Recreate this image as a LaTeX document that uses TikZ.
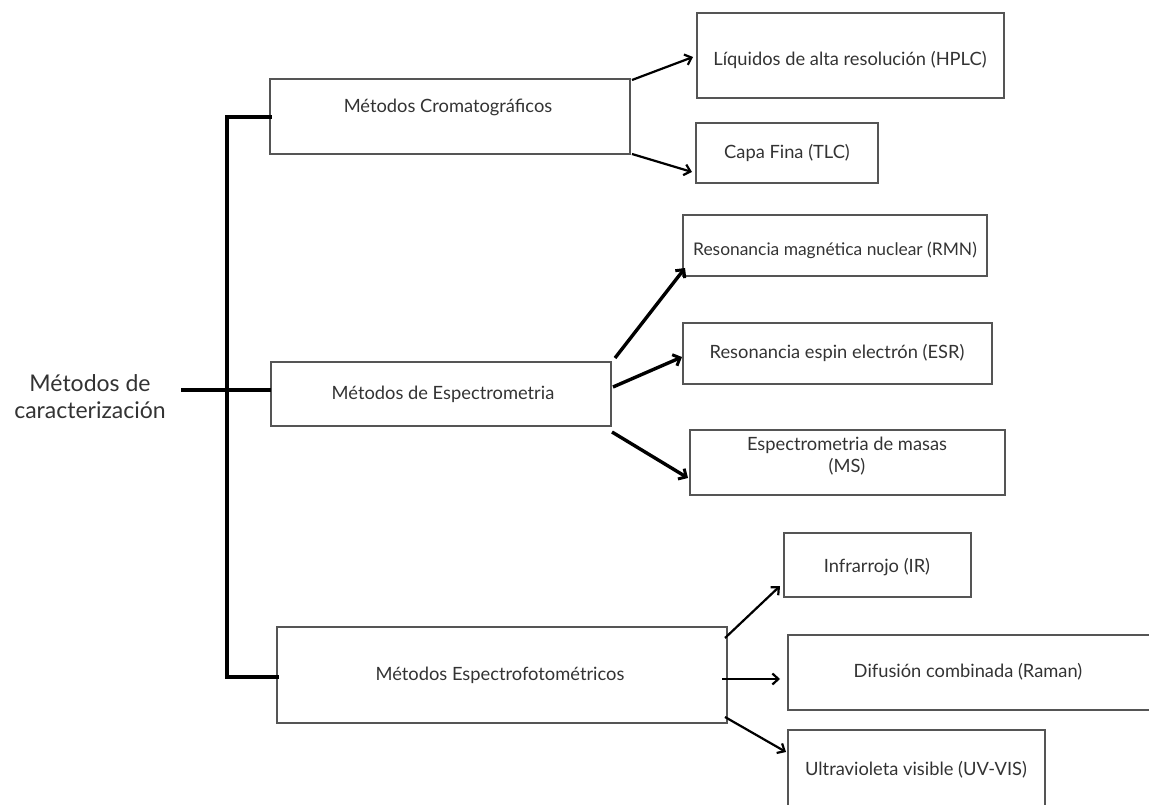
\documentclass[tikz,border=0pt]{standalone}
\usepackage{fontspec}
\setmainfont{Lato}
\usetikzlibrary{arrows.meta,calc}
\definecolor{txt}{HTML}{333333}
\definecolor{edge}{HTML}{555555}
\begin{document}
\begin{tikzpicture}[x=1pt,y=-1pt,
  box/.style={draw=edge,line width=1.4pt,inner sep=0pt,outer sep=0pt},
  lbl/.style={text=txt,font=\fontsize{18.3}{22}\selectfont,align=center,inner sep=0pt},
  trunk/.style={line width=3.6pt,black},
  arr/.style={line width=2.2pt,black,-{Straight Barb[length=6pt,width=11pt,line width=2.2pt]}},
  arrt/.style={line width=3.4pt,black,-{Straight Barb[length=6pt,width=12pt,line width=3pt]}}]
\useasboundingbox (0,0) rectangle (1149,805);
% main boxes
\node[box,minimum width=360pt,minimum height=75pt] (b1) at (450,116.5) {};
\node[lbl] (t1) at (448,107) {Métodos Cromatográficos};
\node[box,minimum width=340pt,minimum height=64pt] (b2) at (441,394) {};
\node[lbl] (t2) at (443,394) {Métodos de Espectrometria};
\node[box,minimum width=450pt,minimum height=96pt] (b3) at (502,675) {};
\node[lbl] (t3) at (500,675) {Métodos Espectrofotométricos};
% leaves
\node[box,minimum width=307pt,minimum height=85pt] (hplc) at (850.5,55.5) {};
\node[lbl] at (850,60) {Líquidos de alta resolución (HPLC)};
\node[box,minimum width=182pt,minimum height=60pt] (tlc) at (787,153) {};
\node[lbl] at (787,153) {Capa Fina (TLC)};
\node[box,minimum width=304pt,minimum height=61pt] (rmn) at (835,245.5) {};
\node[lbl,font=\fontsize{17.4}{21}\selectfont] at (835,250) {Resonancia magnética nuclear (RMN)};
\node[box,minimum width=309pt,minimum height=61pt] (esr) at (837.5,353.5) {};
\node[lbl] at (837,353) {Resonancia espin electrón (ESR)};
\node[box,minimum width=315pt,minimum height=65pt] (ms) at (847.5,462.5) {};
\node[lbl] at (847,456) {Espectrometria de masas\\(MS)};
\node[box,minimum width=187pt,minimum height=64pt] (ir) at (877.5,565) {};
\node[lbl] at (877,567) {Infrarrojo (IR)};
\node[box,minimum width=372pt,minimum height=75pt] (raman) at (974,672.5) {};
\node[lbl] at (968,672) {Difusión combinada (Raman)};
\node[box,minimum width=257pt,minimum height=76pt] (uv) at (916.5,768) {};
\node[lbl] at (916,770) {Ultravioleta visible (UV-VIS)};
% title
\node[text=txt,font=\fontsize{23}{27}\selectfont,align=center,inner sep=0pt] (tt) at (90,397) {Métodos de\\caracterización};
% trunk
\coordinate (js) at (181,390);
\coordinate (jt) at (227,117);
\coordinate (jb) at (227,677);
\draw[trunk] (js) -- (b2.west |- js);
\draw[trunk,line cap=rect] (b1.west |- jt) -- (jt) -- (jb) -- (b3.west |- jb);
% arrows
\draw[arr] ($(b1.north east)+(2,1)$) -- ($(hplc.west)+(-4,1.5)$);
\draw[arr] ($(b1.south east)+(2,0)$) -- ($(tlc.west)+(-4,19)$);
\draw[arrt] ($(b2.north east)+(4,-4)$) -- ($(rmn.south west)+(2,-8)$);
\draw[arrt] ($(b2.east)+(2,-7)$) -- ($(esr.west)+(-1,3.5)$);
\draw[arrt] ($(b2.south east)+(1,6)$) -- ($(ms.west)+(-2,15.5)$);
\draw[arr] ($(b3.north east)+(-2,11)$) -- ($(ir.south west)+(-4,-11)$);
\draw[arr] ($(b3.east)+(-5,4)$) -- ($(raman.west)+(-8,6.5)$);
\draw[arr] ($(b3.south east)+(-2,-6)$) -- ($(uv.north west)+(-2,22)$);
\end{tikzpicture}
\end{document}
